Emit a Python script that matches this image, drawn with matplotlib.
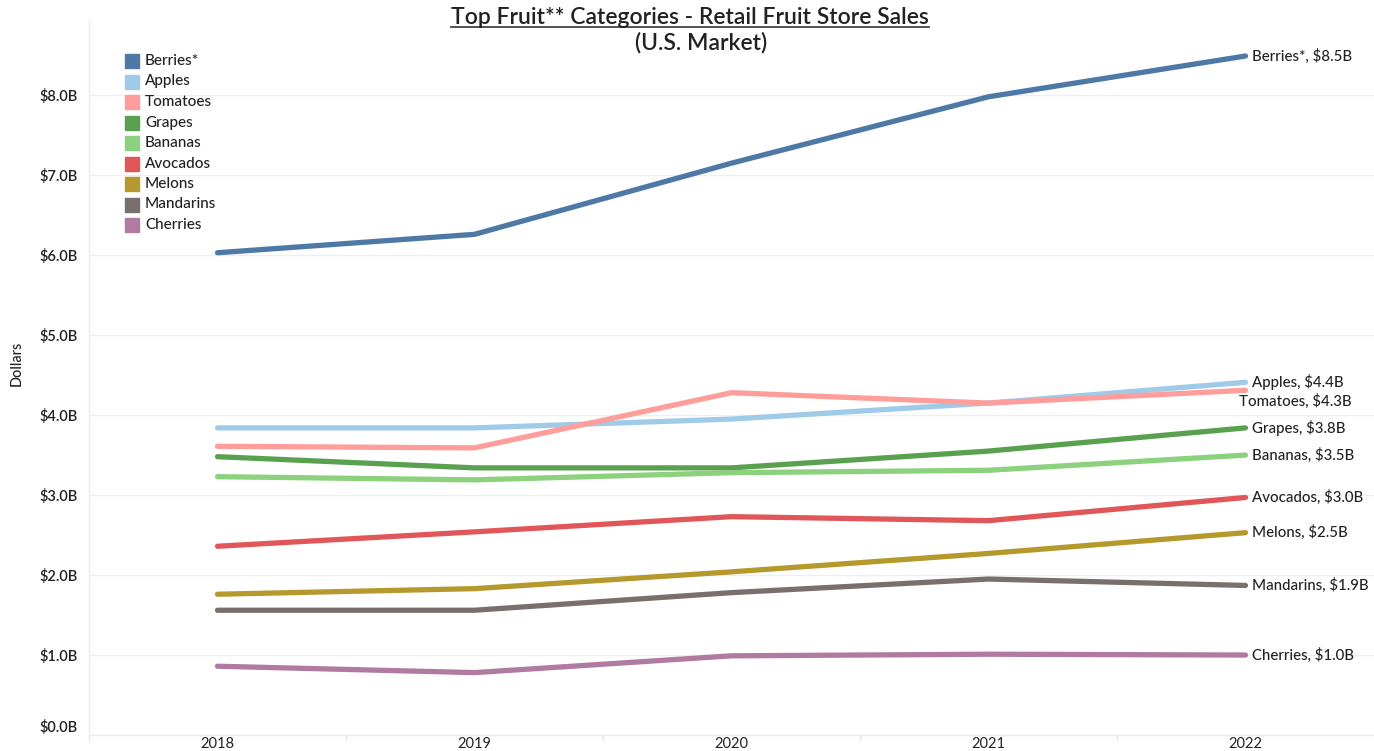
import matplotlib
matplotlib.use("Agg")
import matplotlib.pyplot as plt
from matplotlib.patches import Rectangle
from matplotlib.ticker import FuncFormatter, FixedLocator

years = [2018, 2019, 2020, 2021, 2022]

fruits = ["Berries*", "Apples", "Tomatoes", "Grapes", "Bananas",
          "Avocados", "Melons", "Mandarins", "Cherries"]

# sales in billions of dollars
berries = [6.03, 6.26, 7.15, 7.98, 8.49]
apples = [3.84, 3.84, 3.95, 4.15, 4.41]
tomatoes = [3.61, 3.59, 4.28, 4.15, 4.31]
grapes = [3.48, 3.34, 3.34, 3.55, 3.84]
bananas = [3.23, 3.19, 3.28, 3.31, 3.50]
avocados = [2.36, 2.54, 2.73, 2.68, 2.97]
melons = [1.76, 1.83, 2.04, 2.27, 2.53]
mandarins = [1.56, 1.56, 1.78, 1.95, 1.87]
cherries = [0.86, 0.78, 0.99, 1.01, 1.00]

series = [berries, apples, tomatoes, grapes, bananas,
          avocados, melons, mandarins, cherries]

colors = ["#4e79a7", "#a0cbe8", "#ff9d9a", "#59a14f", "#8cd17d",
          "#e15759", "#b6992d", "#79706e", "#b07aa1"]

FONT = ["Lato", "DejaVu Sans"]
TEXT = "#222222"
plt.rcParams["font.family"] = FONT

fig = plt.figure(figsize=(13.74, 7.51), dpi=100)
W, H = 1374, 751
ax = fig.add_axes([89 / W, 16 / H, 1 - 89 / W, (735 - 20) / H])

for name, vals, col in zip(fruits, series, colors):
    ax.plot(years, vals, color=col, lw=3.8, solid_capstyle="round",
            solid_joinstyle="round")

# end-of-line labels; tomatoes nudged down so it clears apples
nudge = {"Tomatoes": (-4.5, -8)}
for name, vals in zip(fruits, series):
    dx, dy = nudge.get(name, (4.5, 0))
    ax.annotate(f"{name}, ${vals[-1]:.1f}B", (years[-1], vals[-1]),
                xytext=(dx, dy), textcoords="offset points",
                ha="left", va="center", fontsize=10.8, color=TEXT,
                fontweight="medium", annotation_clip=False)

ax.set_xlim(2017.5, 2022.5)
ax.set_ylim(0, 8.94)

ax.set_yticks([0, 1, 2, 3, 4, 5, 6, 7, 8])
ax.yaxis.set_major_formatter(FuncFormatter(lambda v, p: f"${v:.1f}B"))
ax.set_xticks(years)
ax.xaxis.set_minor_locator(FixedLocator([2017.5, 2018.5, 2019.5, 2020.5, 2021.5]))
ax.tick_params(axis="x", which="major", length=0, pad=1.5, labelsize=10.5,
               labelcolor=TEXT)
ax.tick_params(axis="x", which="minor", length=4, width=1, color="#e8e8e8")
ax.tick_params(axis="y", length=0, pad=8, labelsize=10.5, labelcolor=TEXT)
for lab in ax.get_yticklabels():
    lab.set_fontweight("semibold")
ax.get_yticklabels()[0].set_va("bottom")

ax.grid(axis="y", color="#efefef", lw=1)
ax.set_axisbelow(True)
for side in ["top", "right"]:
    ax.spines[side].set_visible(False)
for side in ["left", "bottom"]:
    ax.spines[side].set_color("#ececec")
    ax.spines[side].set_linewidth(1)

ax.set_ylabel("Dollars", fontsize=10.5, color=TEXT, fontweight="medium")
ax.yaxis.set_label_coords(-0.0507, 0.52)

# legend, drawn as colour swatches in figure pixels
for i, (name, col) in enumerate(zip(fruits, colors)):
    yc = 61 + i * 20.5
    fig.patches.append(Rectangle((125 / W, 1 - (yc + 7) / H), 14 / W, 14 / H,
                                 transform=fig.transFigure, color=col))
    fig.text(145 / W, 1 - yc / H, name, fontsize=11, color=TEXT,
             fontweight="medium", ha="left", va="center")

# underlined title
t1 = fig.text(690 / W, 1 - 17 / H, "Top Fruit** Categories - Retail Fruit Store Sales",
              fontsize=16.5, fontweight="semibold", color=TEXT,
              ha="center", va="center")
fig.text(701 / W, 1 - 43 / H, "(U.S. Market)", fontsize=16.5,
         fontweight="semibold", color=TEXT, ha="center", va="center")
fig.canvas.draw()
bb = t1.get_window_extent().transformed(fig.transFigure.inverted())
fig.add_artist(plt.Line2D([bb.x0, bb.x1], [bb.y0 + 1 / H, bb.y0 + 1 / H],
                          transform=fig.transFigure, color="#444444", lw=1.3))

fig.savefig("out.png", dpi=100)
